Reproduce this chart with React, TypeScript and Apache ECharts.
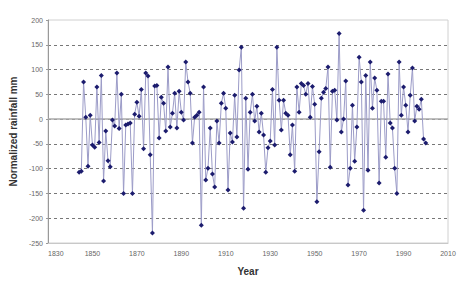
import React, { useEffect, useRef } from "react";
import * as echarts from "echarts";

const startYear = 1844;
// Normalized rainfall (mm), one value per year from 1844 to 2000
const rainfall: number[] = [
  -107, -105, 75, 4, -95, 8,
  -52, -57, 65, -47, 88, -125, -24, -84, -96, -2,
  -14, 93, -19, 50, -150, -12, -10, -8, -150, 10,
  34, 6, 60, -60, 93, 87, -72, -230, 67, 68,
  -38, 44, 32, -24, 105, -16, 12, 52, -18, 56,
  14, -2, 115, 75, 52, -48, 4, 8, 14, -214,
  65, -123, -99, -18, -111, -137, -4, -48, 32, 52,
  22, -143, -28, -46, 48, -36, 99, 145, -180, 42,
  -101, 14, 50, -4, 26, -26, 12, -32, -107, -58,
  -44, 60, -52, 145, 38, -22, 38, 12, 8, -72,
  -12, -105, 65, 14, 72, 68, 50, 72, 4, 66,
  30, -167, -66, 42, 54, 62, 105, -97, 56, 58,
  -2, 173, -26, 0, 77, -133, -99, 28, -85, -16,
  125, 75, -184, 88, -103, 115, 22, 83, 58, -129,
  36, 36, -77, 91, -8, -18, -99, -150, 115, 8,
  65, 28, -26, 48, 103, -4, 26, 20, 40, -40, -48,
];

const xMin = 1830;
const xMax = 2010;
const xStep = 20;
const yMin = -250;
const yMax = 200;
const yStep = 50;

const xTitle = "Year";
const yTitle = "Normalized rainfall mm";

export default function App() {
  const ref = useRef<HTMLDivElement>(null);

  useEffect(() => {
    if (!ref.current) return;
    const chart = echarts.init(ref.current, null, { renderer: "svg" });
    const points = rainfall.map((v, i) => [startYear + i, v]);
    chart.setOption({
      animation: false,
      backgroundColor: "#ffffff",
      textStyle: { fontFamily: "Liberation Sans, Arial, sans-serif" },
      grid: {
        left: 47,
        right: 14,
        top: 20,
        bottom: 45,
        show: true,
        borderColor: "#d0d0d0",
        borderWidth: 1,
        backgroundColor: "transparent",
      },
      xAxis: {
        type: "value",
        min: xMin,
        max: xMax,
        interval: xStep,
        name: xTitle,
        nameLocation: "middle",
        nameGap: 23,
        nameTextStyle: { fontSize: 10, fontWeight: "bold", color: "#333" },
        axisLine: { show: true, onZero: false, lineStyle: { color: "#c8c8c8", width: 1 } },
        axisTick: { show: false },
        axisLabel: {
          fontSize: 7,
          color: "#666",
          margin: 7,
          alignMinLabel: "left",
          formatter: (v: number) => String(v),
        },
        splitLine: { show: false },
      },
      yAxis: {
        type: "value",
        min: yMin,
        max: yMax,
        interval: yStep,
        name: yTitle,
        nameLocation: "middle",
        nameGap: 30,
        nameTextStyle: { fontSize: 10, fontWeight: "bold", color: "#333" },
        axisLine: { show: true, lineStyle: { color: "#999", width: 1 } },
        axisTick: { show: true, length: 2, lineStyle: { color: "#999" } },
        axisLabel: { fontSize: 7, color: "#666", margin: 5 },
        splitLine: {
          show: true,
          showMinLine: false,
          showMaxLine: false,
          lineStyle: { color: "#777", width: 1, type: [3, 3] },
        },
      },
      series: [
        {
          type: "line",
          data: points,
          symbol: "diamond",
          symbolSize: 5,
          showAllSymbol: true,
          itemStyle: { color: "#1c1c6e" },
          lineStyle: { color: "#9c9cc8", width: 1 },
          z: 3,
          markLine: {
            silent: true,
            symbol: "none",
            label: { show: false },
            lineStyle: { color: "#aaa", width: 1.5, type: "solid" },
            data: [{ yAxis: 0 }],
            z: 1,
          },
        },
      ],
    });
    return () => chart.dispose();
  }, []);

  return (
    <div
      ref={ref}
      style={{ position: "fixed", left: 0, top: 0, width: 462, height: 288 }}
    />
  );
}
